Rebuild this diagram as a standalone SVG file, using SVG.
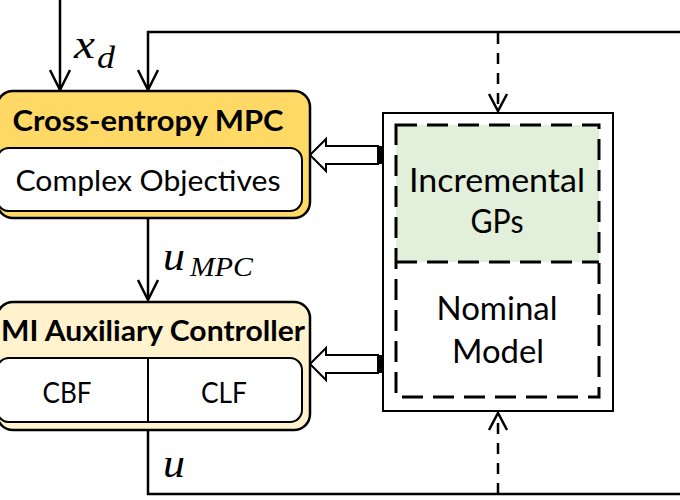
<svg xmlns="http://www.w3.org/2000/svg" width="680" height="500" viewBox="0 0 680 500">
<style>
.ln{fill:none;stroke:#000;stroke-width:2.5}
.dl{fill:none;stroke:#000;stroke-width:2.5;stroke-dasharray:11 9}
.ah{fill:none;stroke:#000;stroke-width:2.5;stroke-linejoin:miter}
.t{font-family:Lato,"Open Sans","Liberation Sans",sans-serif;fill:#000}
.m{font-family:"Liberation Serif","DejaVu Serif",serif;font-style:italic;fill:#000}
.blk{fill:#fff;stroke:#000;stroke-width:2}
</style>
<g id="connectors">
<path class="ln" d="M60,0 V89"/>
<path class="ah" d="M50,70 L60,90 L70,70"/>
<path class="ln" d="M680,32 H148 V89"/>
<path class="ah" d="M138,70 L148,90 L158,70"/>
<path class="ln" d="M148,218 V299"/>
<path class="ah" d="M138,280 L148,300 L158,280"/>
<path class="ln" d="M148,430 V494 H680"/>
<path class="dl" d="M498,33 V108"/>
<path class="ah" d="M489,94 L498,111 L507,94"/>
<path class="dl" d="M498,494 V416"/>
<path class="ah" d="M489,430 L498,413 L507,430"/>
<path class="blk" d="M310,155 L326,139 L326,146 L378,146 L378,164 L326,164 L326,171 Z"/>
<rect x="377" y="146" width="6" height="18" fill="#000"/>
<path class="blk" d="M310,364 L326,348 L326,355 L378,355 L378,373 L326,373 L326,380 Z"/>
<rect x="377" y="355" width="6" height="18" fill="#000"/>
<text class="m" x="74" y="58" font-size="40" textLength="21" lengthAdjust="spacingAndGlyphs">x</text>
<text class="m" x="97" y="68" font-size="31" textLength="18" lengthAdjust="spacingAndGlyphs">d</text>
<text class="m" x="163" y="270" font-size="40" textLength="22" lengthAdjust="spacingAndGlyphs">u</text>
<text class="m" x="190" y="276" font-size="28" textLength="63" lengthAdjust="spacingAndGlyphs">MPC</text>
<text class="m" x="163" y="477" font-size="40" textLength="22" lengthAdjust="spacingAndGlyphs">u</text>
</g>
<g id="mpc">
<rect x="-3" y="91" width="313" height="127" rx="16" fill="#FFD966" stroke="#000" stroke-width="2.5"/>
<rect x="-3" y="148" width="305" height="63" rx="12" fill="#fff" stroke="#000" stroke-width="2"/>
<text class="t" x="148" y="131" font-size="28" font-weight="bold" text-anchor="middle" textLength="271" lengthAdjust="spacingAndGlyphs">Cross-entropy MPC</text>
<text class="t" x="148" y="191" font-size="28" text-anchor="middle" textLength="265" lengthAdjust="spacingAndGlyphs">Complex Objectives</text>
</g>
<g id="aux">
<rect x="-3" y="302" width="313" height="128" rx="16" fill="#FFF2CC" stroke="#000" stroke-width="2.5"/>
<rect x="-3" y="358" width="305" height="64" rx="12" fill="#fff" stroke="#000" stroke-width="2"/>
<line x1="148" y1="358" x2="148" y2="422" stroke="#000" stroke-width="2"/>
<text class="t" x="1" y="341" font-size="28" font-weight="bold" textLength="304" lengthAdjust="spacingAndGlyphs">MI Auxiliary Controller</text>
<text class="t" x="67" y="403" font-size="28" text-anchor="middle" textLength="49" lengthAdjust="spacingAndGlyphs">CBF</text>
<text class="t" x="224" y="403" font-size="28" text-anchor="middle" textLength="46" lengthAdjust="spacingAndGlyphs">CLF</text>
</g>
<g id="model">
<rect x="383" y="113" width="230" height="298" fill="#fff" stroke="#000" stroke-width="2"/>
<rect x="396" y="125" width="203" height="137" fill="#E2EFDA"/>
<rect x="396" y="125" width="203" height="272" fill="none" stroke="#000" stroke-width="3" stroke-dasharray="21 10"/>
<line x1="396" y1="262" x2="599" y2="262" stroke="#000" stroke-width="3" stroke-dasharray="21 10"/>
<text class="t" x="497" y="192" font-size="32" text-anchor="middle" textLength="176" lengthAdjust="spacingAndGlyphs">Incremental</text>
<text class="t" x="497" y="233" font-size="32" text-anchor="middle" textLength="53" lengthAdjust="spacingAndGlyphs">GPs</text>
<text class="t" x="497" y="320" font-size="32" text-anchor="middle" textLength="121" lengthAdjust="spacingAndGlyphs">Nominal</text>
<text class="t" x="498" y="363" font-size="32" text-anchor="middle" textLength="92" lengthAdjust="spacingAndGlyphs">Model</text>
</g>
</svg>
